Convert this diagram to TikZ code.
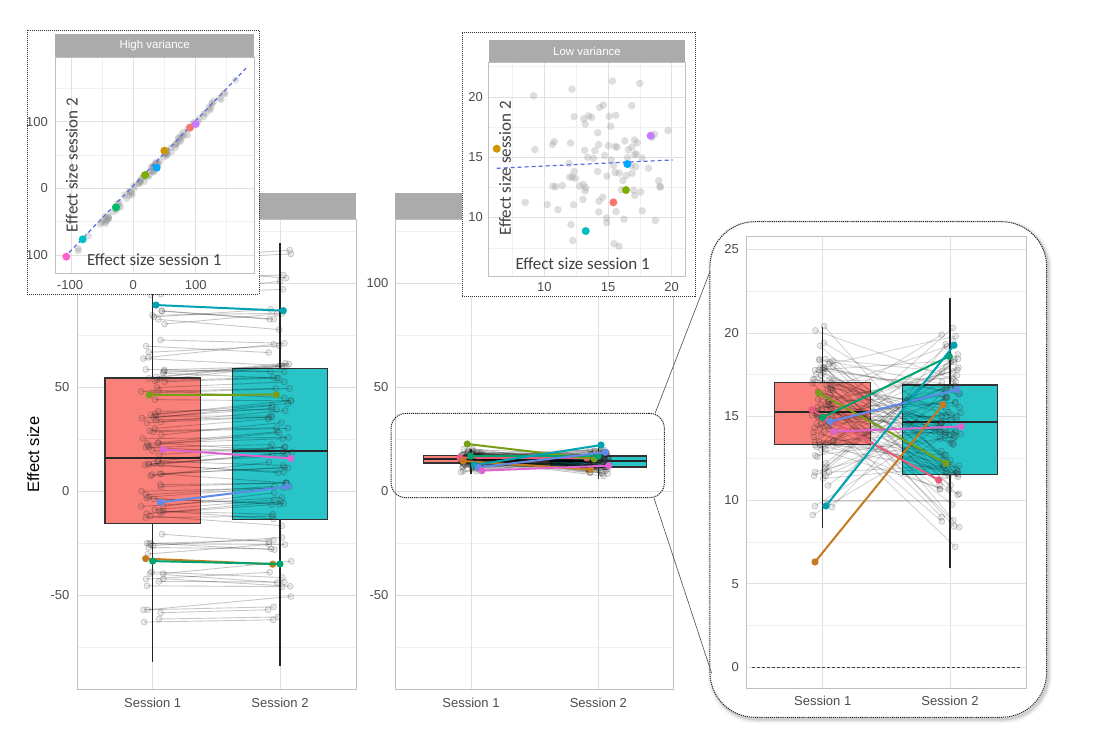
\documentclass[tikz,border=0pt]{standalone}
\usepackage{fontspec}
\setmainfont{Liberation Sans}
\newfontfamily\calib{Carlito}
\usetikzlibrary{calc}

\definecolor{boxred}{RGB}{250,128,122}
\definecolor{boxteal}{RGB}{40,196,199}
\definecolor{hlteal}{RGB}{0,163,178}
\definecolor{hlolive}{RGB}{118,158,22}
\definecolor{hlpink}{RGB}{222,98,208}
\definecolor{hlblue}{RGB}{96,138,232}
\definecolor{hlbrown}{RGB}{196,122,30}
\definecolor{hlgreen}{RGB}{0,163,110}
\definecolor{hlred}{RGB}{234,88,122}
\definecolor{gred}{HTML}{F8766D}
\definecolor{gbrown}{HTML}{CD9600}
\definecolor{golive}{HTML}{7CAE00}
\definecolor{ggreen}{HTML}{00BE67}
\definecolor{gteal}{HTML}{00BFC4}
\definecolor{gblue}{HTML}{00A9FF}
\definecolor{gpurple}{HTML}{C77CFF}
\definecolor{gpink}{HTML}{FF61CC}
\definecolor{regline}{RGB}{90,108,225}

\tikzset{
  panelbd/.style={draw=black!25, line width=0.7},
  strip/.style={fill=black!33},
  gridmaj/.style={draw=black!12, line width=0.7},
  gridmin/.style={draw=black!6, line width=0.6},
  ticklab/.style={font=\fontsize{13}{13}\selectfont, text=black!70, inner sep=0},
  striplab/.style={font=\fontsize{11.5}{11.5}\selectfont, text=white, inner sep=0},
  axtitle/.style={font=\calib\fontsize{17}{17}\selectfont, text=black!75, inner sep=0},
  subj/.style={draw=black, draw opacity=0.22, line width=0.9},
  subjpt/.style={fill=black!60, fill opacity=0.12, draw=black, draw opacity=0.22, line width=0.6},
  scatpt/.style={fill=black!45, fill opacity=0.28},
  whisk/.style={draw=black!85, line width=1.3},
  boxpart/.style={fill=#1, draw=black!80, line width=1.4},
  med/.style={draw=black!85, line width=2},
  hl/.style={draw=#1, line width=2},
  insetframe/.style={draw=black!80, fill=white, dash pattern=on 1pt off 1pt, line width=0.6, inner sep=0, outer sep=0},
  zoomframe/.style={draw=black!85, dash pattern=on 1.2pt off 0.9pt, line width=1, inner sep=0, outer sep=0},
  link/.style={draw=black!70, line width=0.6}
}

\begin{document}
\begin{tikzpicture}[x=1pt,y=-1pt]
\useasboundingbox (0,0) rectangle (1097,746);

\foreach \xl/\xr in {77/356,395/673}{
  \fill[white] (\xl,219) rectangle (\xr,689);
  \fill[strip] (\xl,193) rectangle (\xr,219);
}

\begin{scope}[shift={(0,491)},y=2.08pt]
  \foreach \xl/\xr/\sa/\sb in {77/356/152.7/280,395/673/471/598.3}{
    \foreach \v in {-75,-25,25,75,125} \draw[gridmin] (\xl,\v) -- (\xr,\v);
    \foreach \v in {-50,0,50,100} \draw[gridmaj] (\xl,\v) -- (\xr,\v);
    \draw[gridmaj] (\sa,-95.2) -- (\sa,130.8) (\sb,-95.2) -- (\sb,130.8);
  }
  \foreach \v in {-50,0,50} \node[ticklab, anchor=east] at (69.5,\v) {\v};
  \foreach \v in {-50,0,50,100} \node[ticklab, anchor=east] at (388.5,\v) {\v};

  % high variance
  \draw[whisk] (152.7,-82) -- (152.7,120) (280,-84) -- (280,119.4);
  \draw[boxpart=boxred] (105,-15.7) rectangle (200.7,54.3);
  \draw[med] (105,15.7) -- (200.7,15.7);
  \draw[boxpart=boxteal] (232.3,-13.6) rectangle (327.7,59);
  \draw[med] (232.3,19.4) -- (327.7,19.4);
  \pgfmathsetseed{7}
  \foreach \i in {1,...,100}{
    \pgfmathsetmacro\va{18+51*(rand+rand)}
    \pgfmathsetmacro\vb{\va+1+6*rand}
    \pgfmathsetmacro\xa{152.7+12*rand}
    \pgfmathsetmacro\xb{280+12*rand}
    \draw[subj] (\xa,\va) -- (\xb,\vb);
    \path[subjpt] (\xa,\va) circle[radius=3pt] (\xb,\vb) circle[radius=3pt];
  }
  \foreach \c/\xa/\va/\xb/\vb in {hlteal/156/89.4/283.3/86.7, hlolive/149.3/46.2/276.3/46.3,
      hlpink/163.3/19.9/290.7/15.7, hlblue/160.3/-5.4/287.3/2.1,
      hlbrown/145.7/-32.5/272.7/-35.2, hlgreen/152.7/-33.7/280/-35.1}{
    \draw[hl=\c] (\xa,\va) -- (\xb,\vb);
    \fill[\c] (\xa,\va) circle[radius=3.6pt] (\xb,\vb) circle[radius=3.6pt];
  }

  % low variance
  \draw[whisk] (471,8.3) -- (471,20.4) (598.3,5.9) -- (598.3,22.1);
  \draw[boxpart=boxred] (423.3,13.4) rectangle (518.7,17.1);
  \draw[med] (423.3,15.2) -- (518.7,15.2);
  \draw[boxpart=boxteal] (550.7,11.5) rectangle (646.7,16.9);
  \draw[med] (550.7,14.6) -- (646.7,14.6);
  \pgfmathsetseed{11}
  \foreach \i in {1,...,100}{
    \pgfmathsetmacro\va{max(8.3,min(20.4,15.2+2.4*(rand+rand+rand)))}
    \pgfmathsetmacro\vb{max(5.9,min(22.1,14.5+2.9*(rand+rand+rand)))}
    \pgfmathsetmacro\xa{471+11*rand}
    \pgfmathsetmacro\xb{598.3+11*rand}
    \draw[subj] (\xa,\va) -- (\xb,\vb);
    \path[subjpt] (\xa,\va) circle[radius=3pt] (\xb,\vb) circle[radius=3pt];
  }
  \foreach \c/\xa/\va/\xb/\vb in {hlred/460/16.0/586.7/15.9, hlolive/467.3/22.6/594.3/15.4,
      hlgreen/470.7/16.8/598.3/16.8, hlbrown/463.3/14.4/590.7/10.4,
      hlteal/474.3/12.5/601/22.1, hlblue/478.3/11.4/605.3/18.6, hlpink/482/9.8/608.7/12.2}{
    \draw[hl=\c] (\xa,\va) -- (\xb,\vb);
    \fill[\c] (\xa,\va) circle[radius=3.6pt] (\xb,\vb) circle[radius=3.6pt];
  }
\end{scope}

\draw[panelbd] (77,219) rectangle (356,689) (395,219) rectangle (673,689);
\foreach \x/\s in {152.7/1,280/2,471/1,598.3/2}
  \node[ticklab] at (\x,702.7) {Session \s};
\node[font=\fontsize{16.5}{16.5}\selectfont, rotate=90] at (33.3,454.7) {Effect size};

\node[zoomframe, rounded corners=15pt, minimum width=273.3pt, minimum height=84.4pt] (lowbox) at (527.7,455.5) {};

% zoomed panel
\foreach \w/\o in {8/0.04,5/0.06,2.5/0.1}
  \draw[line width=\w, draw opacity=\o, rounded corners=45pt] (711.5,223.7) rectangle (1048.2,719.3);
\node[zoomframe, fill=white, rounded corners=45pt, minimum width=336.7pt, minimum height=495.6pt] (zoombox) at (878.3,469.5) {};
\draw[link] ($(lowbox.north east)+(-9.3,0)$) -- ($(zoombox.north west)+(0,50)$);
\draw[link] ($(lowbox.south east)+(-10.3,0.6)$) -- ($(zoombox.south west)+(1.7,-44)$);

\begin{scope}[shift={(0,667.3)},y=16.72pt,subj/.append style={draw opacity=0.17}]
  \foreach \v in {2.5,7.5,12.5,17.5,22.5} \draw[gridmin] (746.7,\v) -- (1026,\v);
  \foreach \v in {0,5,10,15,20,25}{
    \draw[gridmaj] (746.7,\v) -- (1026,\v);
    \node[ticklab, anchor=east] at (739,\v) {\v};
  }
  \draw[gridmaj] (822.7,-1.26) -- (822.7,25.75) (950,-1.26) -- (950,25.75);
  \draw[black!75, line width=0.8, dash pattern=on 3pt off 2pt] (751.7,0) -- (1020,0);
  \draw[whisk] (822.7,8.31) -- (822.7,20.37) (950,5.92) -- (950,22.07);
  \draw[boxpart=boxred] (774.3,13.34) rectangle (870.7,17.05);
  \draw[med] (774.3,15.25) -- (870.7,15.25);
  \draw[boxpart=boxteal] (902.7,11.54) rectangle (997.7,16.88);
  \draw[med] (902.7,14.65) -- (997.7,14.65);
  \draw[black, draw opacity=0.12, line width=2.4] (822.7,9.96) -- (950,9.96);
  \pgfmathsetseed{11}
  \foreach \i in {1,...,100}{
    \pgfmathsetmacro\va{max(8.3,min(20.4,15.2+2.4*(rand+rand+rand)))}
    \pgfmathsetmacro\vb{max(5.9,min(22.1,14.5+2.9*(rand+rand+rand)))}
    \pgfmathsetmacro\xa{822.7+11*rand}
    \pgfmathsetmacro\xb{950+11*rand}
    \draw[subj] (\xa,\va) -- (\xb,\vb);
    \path[subjpt] (\xa,\va) circle[radius=3pt] (\xb,\vb) circle[radius=3pt];
  }
  \foreach \c/\xa/\va/\xb/\vb in {hlred/812/15.4/938.7/11.2, hlolive/818.7/16.4/946/12.2,
      hlgreen/822.7/14.95/949.3/18.6, hlblue/830/14.7/956.7/16.6, hlpink/833.3/14.1/961/14.4,
      hlteal/826/9.65/954/19.26, hlbrown/815/6.3/942.7/15.7}{
    \draw[hl=\c] (\xa,\va) -- (\xb,\vb);
    \fill[\c] (\xa,\va) circle[radius=3.6pt] (\xb,\vb) circle[radius=3.6pt];
  }
\end{scope}
\draw[panelbd] (746.7,236.7) rectangle (1026,688.3);
\node[ticklab] at (822.7,701) {Session 1};
\node[ticklab] at (950,701) {Session 2};

% high variance inset
\node[insetframe, minimum width=232pt, minimum height=264pt] (highinset) at (143.3,162) {};
\begin{scope}
  \clip (highinset.south west) rectangle (highinset.north east);
  \fill[strip] (55,34) rectangle (254.3,57.3);
  \node[striplab] at (154.7,45.7) {High variance};
  \begin{scope}[shift={(133.3,188.3)},x=0.623pt,y=0.667pt]
    \foreach \v in {-50,50,150}
      \draw[gridmin] (\v,-127.4) -- (\v,196.4) (-125.7,\v) -- (194,\v);
    \foreach \v in {-100,0,100}
      \draw[gridmaj] (\v,-127.4) -- (\v,196.4) (-125.7,\v) -- (194,\v);
    \pgfmathsetseed{3}
    \foreach \i in {1,...,100}{
      \pgfmathsetmacro\u{32+73*(rand+rand)}
      \pgfmathsetmacro\w{\u-2+6*rand}
      \fill[scatpt] (\u,\w) circle[radius=3.6pt];
    }
    \draw[regline, line width=1.2, dash pattern=on 4pt off 3pt] (-111,-104) -- (181,180);
    \foreach \c/\u/\w in {gpink/-107.5/-102.5, gteal/-81.2/-76.5, ggreen/-27.8/-28.5, golive/18.8/19.9,
        gblue/37.6/30.9, gbrown/49.8/56.4, gred/91/90.9, gpurple/100.2/96.4}
      \fill[\c] (\u,\w) circle[radius=4pt];
  \end{scope}
  \draw[panelbd] (55,57.3) rectangle (254.3,273.3);
  \foreach \y/\t in {121.7/100,188.3/0,255.3/-100}
    \node[ticklab, anchor=east] at (48,\y) {\t};
  \foreach \x/\t in {70/-100,133.3/0,195.7/100}
    \node[ticklab] at (\x,285) {\t};
  \node[axtitle, rotate=90] at (71.7,165) {Effect size session 2};
  \node[axtitle] at (154.3,260) {Effect size session 1};
\end{scope}

% low variance inset
\node[insetframe, minimum width=232.7pt, minimum height=263.7pt] (lowinset) at (578.65,164.15) {};
\begin{scope}
  \clip (lowinset.south west) rectangle (lowinset.north east);
  \fill[strip] (488.7,40) rectangle (685.3,62.3);
  \node[striplab] at (587,51.2) {Low variance};
  \begin{scope}[shift={(417.05,338.35)},x=12.73pt,y=12.07pt]
    \foreach \v in {7.5,12.5,17.5} \draw[gridmin] (\v,5.17) -- (\v,22.87);
    \foreach \v in {7.5,12.5,17.5,22.5} \draw[gridmin] (5.63,\v) -- (21.07,\v);
    \foreach \v in {10,15,20}
      \draw[gridmaj] (\v,5.17) -- (\v,22.87) (5.63,\v) -- (21.07,\v);
    \pgfmathsetseed{5}
    \foreach \i in {1,...,90}{
      \pgfmathsetmacro\u{max(6.8,min(20.4,14.4+3.4*(rand+rand)))}
      \pgfmathsetmacro\w{max(6.5,min(22.2,14.6+3.9*(rand+rand)))}
      \fill[scatpt] (\u,\w) circle[radius=3.8pt];
    }
    \draw[regline, line width=1.2, dash pattern=on 4pt off 3pt] (6.26,14.09) -- (20.08,14.78);
    \foreach \c/\u/\w in {gbrown/6.26/15.71, gpurple/18.35/16.79, gblue/16.52/14.44,
        golive/16.41/12.29, gred/15.42/11.27, gteal/13.25/8.89}
      \fill[\c] (\u,\w) circle[radius=4pt];
  \end{scope}
  \draw[panelbd] (488.7,62.3) rectangle (685.3,276);
  \foreach \y/\t in {96.7/20,157.3/15,217.3/10}
    \node[ticklab, anchor=east] at (483,\y) {\t};
  \foreach \x/\t in {544.3/10,608/15,671.7/20}
    \node[ticklab] at (\x,286.7) {\t};
  \node[axtitle, rotate=90] at (505,168.3) {Effect size session 2};
  \node[axtitle] at (582.7,264) {Effect size session 1};
\end{scope}
\end{tikzpicture}
\end{document}
